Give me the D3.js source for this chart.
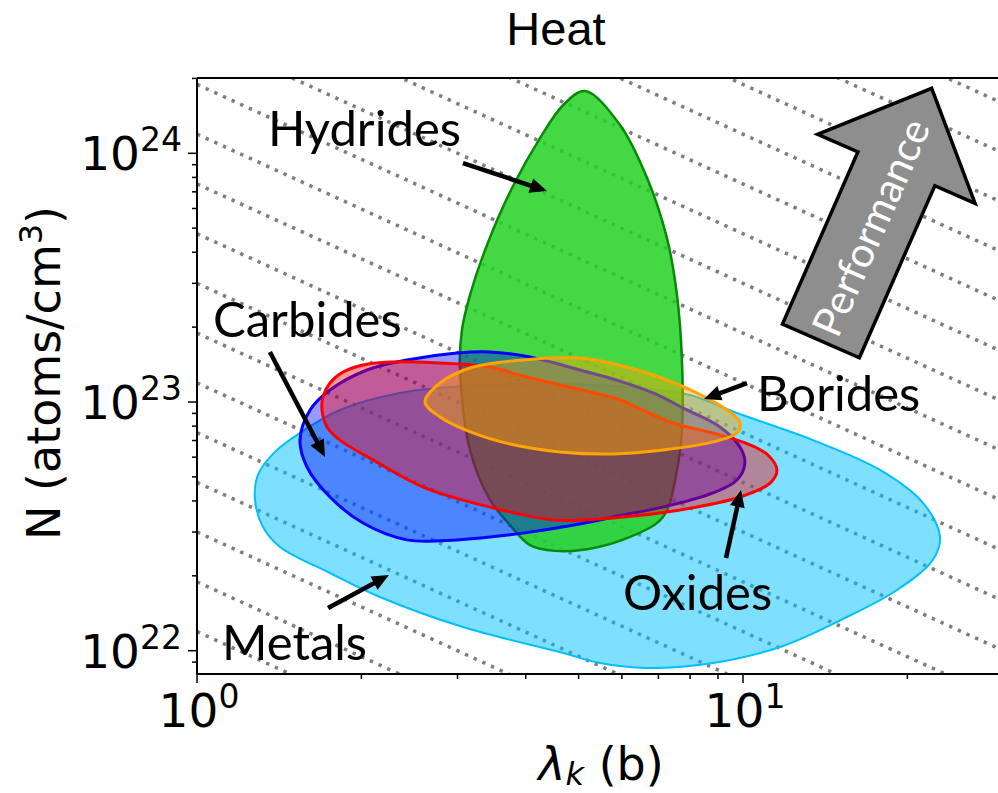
<!DOCTYPE html>
<html><head><meta charset="utf-8">
<script src="https://cdn.jsdelivr.net/npm/d3@7"></script>
<style>body{margin:0;background:#fff}</style>
</head><body>
<svg id="chart" width="998" height="793"></svg>
<script>
// ---------------- data ----------------
const xDomain = [1, 29.56];
const yDomain = [8.06e21, 2.008e24];
const xMajorTicks = [1, 10];
const xMajorExp = ["0", "1"];
const xMinorTicks = [2, 3, 4, 5, 6, 7, 8, 9, 20];
const yMajorTicks = [1e22, 1e23, 1e24];
const yMajorExp = ["22", "23", "24"];
const yMinorTicks = [9e21, 2e22, 3e22, 4e22, 5e22, 6e22, 7e22, 8e22, 9e22,
  2e23, 3e23, 4e23, 5e23, 6e23, 7e23, 8e23, 9e23, 2e24];
// constant N*lambda guide lines
const guideProducts = [7.53e21, 1.194e22, 1.892e22, 3.0e22, 4.75e22, 7.53e22, 1.194e23,
  1.892e23, 3.0e23, 4.75e23, 7.53e23, 1.194e24, 1.892e24, 3.0e24, 4.75e24, 7.53e24,
  1.194e25, 1.892e25, 3.0e25, 4.75e25, 7.53e25];

// region outlines: [lambda (b), N (atoms/cm3)]
const metals = [[1.277,4.04e22],[1.293,5.09e22],[1.389,6.30e22],[1.544,7.51e22],[1.827,9.29e22],
  [2.354,1.087e23],[3.299,1.170e23],[4.622,1.181e23],[6.476,1.138e23],[7.996,1.067e23],
  [9.75,9.03e22],[13.43,7.03e22],[17.82,5.33e22],[21.36,3.93e22],[22.95,2.87e22],
  [22.28,2.32e22],[19.15,1.754e22],[15.50,1.366e22],[11.69,1.035e22],[8.81,8.92e21],
  [6.673,8.52e21],[5.472,8.92e21],[4.682,9.79e21],[3.070,1.245e22],[2.163,1.644e22],
  [1.752,2.053e22],[1.419,2.612e22],[1.321,3.143e22]];
const hydrides = [[5.136,1.78e24],[5.953,1.30e24],[6.673,7.96e23],[7.257,4.56e23],[7.570,2.69e23],
  [7.731,1.46e23],[7.73,7.72e22],[7.57,5.33e22],[7.136,3.45e22],[6.209,2.87e22],
  [5.180,2.56e22],[4.526,2.52e22],[4.073,2.66e22],[3.744,3.20e22],[3.441,4.04e22],
  [3.162,6.41e22],[3.031,1.38e23],[3.057,1.95e23],[3.162,2.69e23],[3.398,4.28e23],
  [3.776,7.25e23],[4.248,1.15e24],[4.682,1.56e24]];
const carbides = [[1.544,7.03e22],[1.611,9.29e22],[1.752,1.117e23],[2.048,1.345e23],[2.424,1.475e23],
  [2.993,1.574e23],[3.441,1.589e23],[4.073,1.517e23],[5.029,1.345e23],[5.953,1.214e23],
  [6.843,1.087e23],[7.895,9.29e22],[9.076,7.94e22],[9.874,6.59e22],[10.08,5.68e22],
  [9.75,4.86e22],[8.81,4.31e22],[7.136,3.78e22],[5.78,3.45e22],[5.246,3.29e22],
  [3.954,2.97e22],[2.993,2.79e22],[2.424,2.79e22],[2.014,3.26e22],[1.752,4.15e22],[1.59,5.48e22]];
const oxides = [[1.694,9.29e22],[1.701,1.047e23],[1.752,1.192e23],[1.851,1.320e23],[2.014,1.409e23],
  [2.257,1.448e23],[2.787,1.435e23],
  [3.441,1.382e23],[3.954,1.272e23],[5.246,1.097e23],[5.953,1.019e23],[7.349,8.31e22],
  [9.076,7.37e22],[10.30,6.72e22],[11.11,6.12e22],[11.54,5.33e22],[11.21,4.72e22],
  [9.874,4.15e22],[7.666,3.68e22],[5.78,3.42e22],[4.545,3.35e22],[3.441,3.78e22],
  [2.594,4.55e22],[2.101,5.85e22],[1.827,7.03e22],[1.730,7.94e22]];
const borides = [[2.616,1.0e23],[2.787,1.192e23],[3.203,1.382e23],[3.954,1.475e23],[5.029,1.503e23],
  [6.673,1.308e23],[8.238,1.087e23],[9.348,9.29e22],[9.874,8.24e22],[9.75,7.51e22],
  [8.81,6.91e22],[7.136,6.41e22],[5.78,6.18e22],[4.622,6.30e22],[3.744,6.78e22],
  [3.203,7.51e22],[2.787,8.71e22]];

// annotations (data coordinates)
const labelNames = ["Hydrides", "Carbides", "Metals", "Oxides", "Borides"];
const labelAnchors = [[1.349,1.070e24],[1.070,1.825e23],[1.111,9.18e21],[6.029,1.458e22],[10.61,9.20e22]];
const arrowTails = [[3.070,9.14e23],[1.360,1.589e23],[1.738,1.485e22],[9.309,2.359e22],[10.17,1.192e23]];
const arrowHeads = [[4.375,7.05e23],[1.716,6.01e22],[2.247,2.015e22],[9.916,4.43e22],[8.483,1.028e23]];
const perfTail = [13.89, 1.761e23];
const perfTip = [22.16, 1.826e24];

// ---------------- drawing ----------------
const svg = d3.select("#chart");
const L = 197, R = 1000, T = 78, B = 674;
const x = d3.scaleLog().domain(xDomain).range([L, R]);
const y = d3.scaleLog().domain(yDomain).range([B, T]);

svg.append("defs").append("clipPath").attr("id", "clip")
  .append("rect").attr("x", L).attr("y", T).attr("width", R - L).attr("height", B - T);

const plot = svg.append("g").attr("clip-path", "url(#clip)");

// guide lines
const lineGen = d3.line().x(d => x(d[0])).y(d => y(d[1]));
plot.append("g").selectAll("path").data(guideProducts).join("path")
  .attr("d", p => lineGen([[xDomain[0], p / xDomain[0]], [xDomain[1], p / xDomain[1]]]))
  .attr("fill", "none").attr("stroke", "#7d7d7d").attr("stroke-width", 3.5)
  .attr("stroke-dasharray", "3.4 6.1");

const regions = [
  {pts: metals, fill: "#00bfff", op: 0.5, stroke: "#00bfff", sw: 2},
  {pts: hydrides, fill: "#23d123", op: 0.85, stroke: "#078a07", sw: 2.5},
  {pts: carbides, fill: "#0000ff", op: 0.4, stroke: "#0000ff", sw: 3},
  {pts: oxides, fill: "#ff0000", op: 0.4, stroke: "#ff0000", sw: 3},
  {pts: borides, fill: "#ffa500", op: 0.45, stroke: "#ffa500", sw: 3}
];
const closed = d3.line().x(d => x(d[0])).y(d => y(d[1])).curve(d3.curveCatmullRomClosed.alpha(0.5));
regions.forEach(r => {
  plot.append("path").attr("d", closed(r.pts))
    .attr("fill", r.fill).attr("fill-opacity", r.op)
    .attr("stroke", r.stroke).attr("stroke-width", r.sw).attr("stroke-linejoin", "round");
});

// Performance arrow
(function () {
  const p0 = [x(perfTail[0]), y(perfTail[1])], p1 = [x(perfTip[0]), y(perfTip[1])];
  const dx = p1[0] - p0[0], dy = p1[1] - p0[1], len = Math.hypot(dx, dy);
  const u = [dx / len, dy / len], n = [-u[1], u[0]];
  const sw = 42, hw = 86, hl = 88;
  const base = [p1[0] - u[0] * hl, p1[1] - u[1] * hl];
  const P = (a, s) => [a[0] + n[0] * s, a[1] + n[1] * s];
  const poly = [P(p0, sw), P(base, sw), P(base, hw), p1, P(base, -hw), P(base, -sw), P(p0, -sw)];
  plot.append("path").attr("d", "M" + poly.map(p => p.join(",")).join("L") + "Z")
    .attr("fill", "#8e8e8e").attr("stroke", "#000").attr("stroke-width", 3.5)
    .attr("stroke-linejoin", "miter");
  const c = [p0[0] + u[0] * len * 0.45, p0[1] + u[1] * len * 0.45];
  const ang = Math.atan2(u[1], u[0]) * 180 / Math.PI;
  const t = plot.append("text").text("Performance")
    .attr("transform", `translate(${c[0]},${c[1]}) rotate(${ang})`)
    .attr("text-anchor", "middle").attr("dy", "0.36em")
    .attr("font-family", "Lato, 'Open Sans', sans-serif").attr("font-size", 40)
    .attr("fill", "#fff");
  const w = t.node().getComputedTextLength();
  t.attr("font-size", 40 * 232 / w);
})();

// spines
svg.append("line").attr("x1", L).attr("x2", L).attr("y1", T).attr("y2", B).attr("stroke", "#000").attr("stroke-width", 2);
svg.append("line").attr("x1", L).attr("x2", R).attr("y1", B).attr("y2", B).attr("stroke", "#000").attr("stroke-width", 2);
svg.append("line").attr("x1", L).attr("x2", R).attr("y1", T).attr("y2", T).attr("stroke", "#000").attr("stroke-width", 2);

// ticks
const tickG = svg.append("g").attr("stroke", "#000").attr("stroke-width", 1.5);
xMajorTicks.forEach(v => tickG.append("line").attr("x1", x(v)).attr("x2", x(v)).attr("y1", B).attr("y2", B + 9));
xMinorTicks.forEach(v => tickG.append("line").attr("x1", x(v)).attr("x2", x(v)).attr("y1", B).attr("y2", B + 5));
yMajorTicks.forEach(v => tickG.append("line").attr("y1", y(v)).attr("y2", y(v)).attr("x1", L).attr("x2", L - 9));
yMinorTicks.forEach(v => tickG.append("line").attr("y1", y(v)).attr("y2", y(v)).attr("x1", L).attr("x2", L - 5));

const tickFont = "'DejaVu Sans', sans-serif";
function powLabel(px, py, exp, anchor) {
  const t = svg.append("text").attr("x", px).attr("y", py).attr("text-anchor", anchor)
    .attr("font-family", tickFont).attr("font-size", 47).attr("fill", "#000");
  t.append("tspan").text("10");
  t.append("tspan").attr("dy", -19).attr("font-size", 33).text(exp);
}
xMajorTicks.forEach((v, i) => powLabel(x(v) + 2, B + 53, xMajorExp[i], "middle"));
yMajorTicks.forEach((v, i) => powLabel(L - 15, y(v) + 17, yMajorExp[i], "end"));

// axis labels
const xl = svg.append("text").attr("x", 601).attr("y", 780).attr("text-anchor", "middle")
  .attr("font-family", tickFont).attr("font-size", 46).attr("fill", "#000");
xl.append("tspan").attr("font-style", "italic").text("λ");
xl.append("tspan").attr("font-style", "italic").attr("font-size", 32).attr("dy", 5).text("k");
xl.append("tspan").attr("dy", -5).text(" (b)");

const yl = svg.append("text").attr("transform", "translate(60,373) rotate(-90)").attr("text-anchor", "middle")
  .attr("font-family", tickFont).attr("font-size", 46).attr("fill", "#000");
yl.append("tspan").text("N (atoms/cm");
yl.append("tspan").attr("font-size", 32).attr("dy", -18).text("3");
yl.append("tspan").attr("dy", 18).text(")");

// title
svg.append("text").attr("x", 556).attr("y", 45).attr("text-anchor", "middle")
  .attr("font-family", "'Liberation Sans', Arial, sans-serif").attr("font-size", 47)
  .attr("fill", "#000").text("Heat");

// annotations
const ann = svg.append("g");
labelNames.forEach((name, i) => {
  ann.append("text").attr("x", x(labelAnchors[i][0])).attr("y", y(labelAnchors[i][1]))
    .attr("font-family", "Lato, 'Open Sans', sans-serif").attr("font-size", 49)
    .attr("fill", "#000").text(name);
  const a = [x(arrowTails[i][0]), y(arrowTails[i][1])];
  const b = [x(arrowHeads[i][0]), y(arrowHeads[i][1])];
  const dx = b[0] - a[0], dy = b[1] - a[1], len = Math.hypot(dx, dy);
  const u = [dx / len, dy / len], n = [-u[1], u[0]];
  const hl = 17, hw = 7.5;
  const bb = [b[0] - u[0] * hl, b[1] - u[1] * hl];
  ann.append("line").attr("x1", a[0]).attr("y1", a[1])
    .attr("x2", bb[0] + u[0] * 2).attr("y2", bb[1] + u[1] * 2)
    .attr("stroke", "#000").attr("stroke-width", 4.5);
  ann.append("path").attr("d", `M${b[0]},${b[1]}L${bb[0] + n[0] * hw},${bb[1] + n[1] * hw}L${bb[0] - n[0] * hw},${bb[1] - n[1] * hw}Z`)
    .attr("fill", "#000");
});
</script>
</body></html>
